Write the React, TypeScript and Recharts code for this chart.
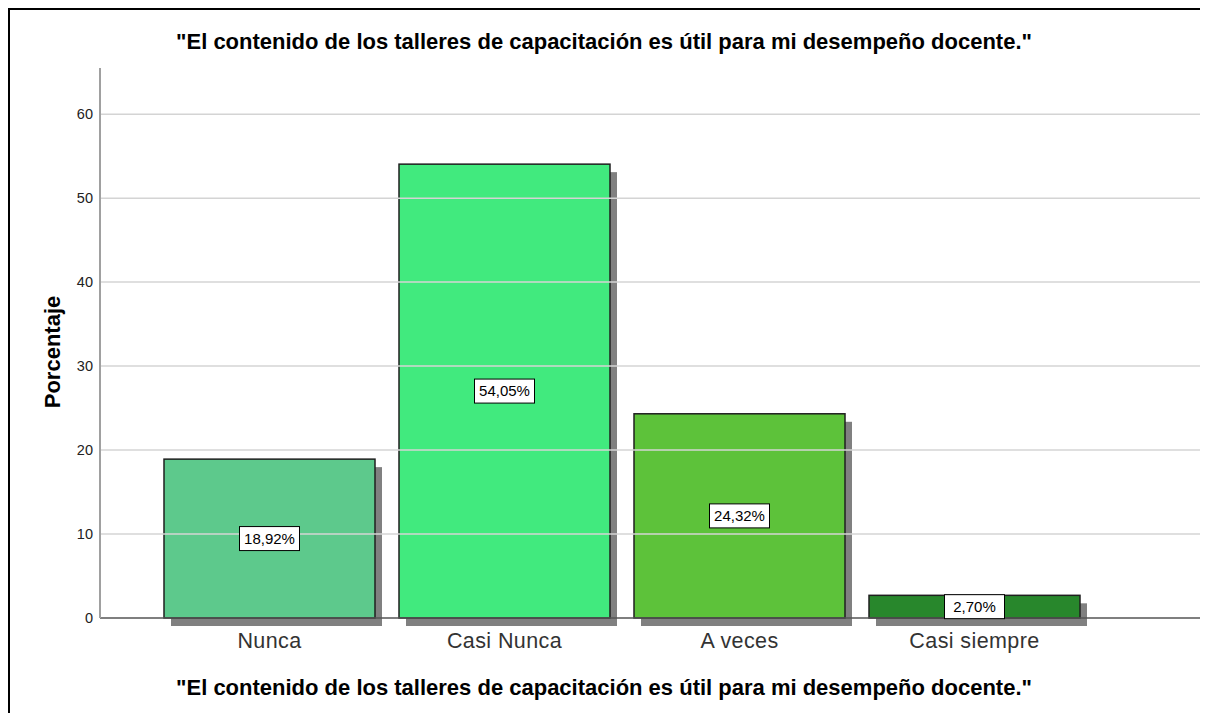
import React from "react";
import { BarChart, Bar, XAxis, YAxis, Cell, LabelList, ReferenceLine } from "recharts";

const categories = ["Nunca", "Casi Nunca", "A veces", "Casi siempre"];
const percentages = [18.92, 54.05, 24.32, 2.7];
const barColors = ["#5dc98c", "#41ea7e", "#5dc23a", "#28872c"];
const yTicks = [0, 10, 20, 30, 40, 50, 60];

const TITLE = "\"El contenido de los talleres de capacitación es útil para mi desempeño docente.\"";
const FONT = "'Liberation Sans', Arial, sans-serif";

const data = categories.map((name, i) => ({ name, value: percentages[i] }));

// bar with the gray drop shadow SPSS draws
const ShadowBar = (props: any) => {
  const { x, y, width, height, fill } = props;
  return (
    <g>
      <rect x={x + 7} y={y + 8} width={width} height={height} fill="#808080" />
      <rect x={x} y={y} width={width} height={height} fill={fill} stroke="#1f1f1f" strokeWidth={1.5} />
    </g>
  );
};

const ValueLabel = (props: any) => {
  const { x, y, width, height, value } = props;
  const cx = x + width / 2;
  const cy = y + height / 2;
  const text = value.toFixed(2).replace(".", ",") + "%";
  return (
    <g>
      <rect x={cx - 30} y={cy - 12} width={60} height={24} fill="#ffffff" stroke="#000" strokeWidth={1} />
      <text x={cx} y={cy + 5} textAnchor="middle" fontSize={15} fontFamily={FONT} fill="#000">
        {text}
      </text>
    </g>
  );
};

export default function App() {
  return (
    <div
      style={{
        position: "relative",
        width: 1200,
        height: 705,
        borderLeft: "2px solid #000",
        borderTop: "2px solid #000",
        boxSizing: "border-box",
        fontFamily: FONT,
        background: "#fff",
      }}
    >
      <style>{"body{overflow:hidden}"}</style>
      <div style={{ position: "absolute", top: 19, left: -2, width: 1192, textAlign: "center", fontWeight: "bold", fontSize: 22, lineHeight: "25px", color: "#000" }}>
        {TITLE}
      </div>
      <div style={{ position: "absolute", top: 665, left: -2, width: 1192, textAlign: "center", fontWeight: "bold", fontSize: 22, lineHeight: "25px", color: "#000" }}>
        {TITLE}
      </div>
      <svg style={{ position: "absolute", top: -2, left: -2 }} width={80} height={700}>
        <text
          x={0}
          y={0}
          transform="translate(44 344) rotate(-90)"
          textAnchor="middle"
          dominantBaseline="central"
          fontSize={22}
          fontWeight="bold"
          fontFamily={FONT}
          fill="#000"
        >
          Porcentaje
        </text>
      </svg>
      <div style={{ position: "absolute", top: -2, left: -2 }}>
        <BarChart width={1200} height={703} data={data} margin={{ top: 60, right: 8, left: 32, bottom: 43 }}>
          {yTicks.slice(1).map((t) => (
            <ReferenceLine key={t} y={t} stroke="#d4d4d4" strokeWidth={1.5} />
          ))}
          <XAxis
            dataKey="name"
            padding={{ left: 52, right: 108 }}
            height={50}
            tickLine={false}
            axisLine={{ stroke: "#555", strokeWidth: 1.5 }}
            tick={{ fontSize: 21.5, fill: "#333", fontFamily: FONT, letterSpacing: 0.4 }}
            tickMargin={9}
            interval={0}
          />
          <YAxis
            domain={[0, 65.5]}
            ticks={yTicks}
            width={60}
            tickLine={false}
            axisLine={{ stroke: "#a0a0a0", strokeWidth: 2 }}
            tick={{ fontSize: 14.5, fill: "#222", fontFamily: FONT }}
            tickMargin={1}
          />
          <Bar dataKey="value" barSize={211} shape={<ShadowBar />} isAnimationActive={false}>
            {data.map((d, i) => (
              <Cell key={d.name} fill={barColors[i]} />
            ))}
            <LabelList dataKey="value" content={<ValueLabel />} />
          </Bar>
        </BarChart>
      </div>
    </div>
  );
}
